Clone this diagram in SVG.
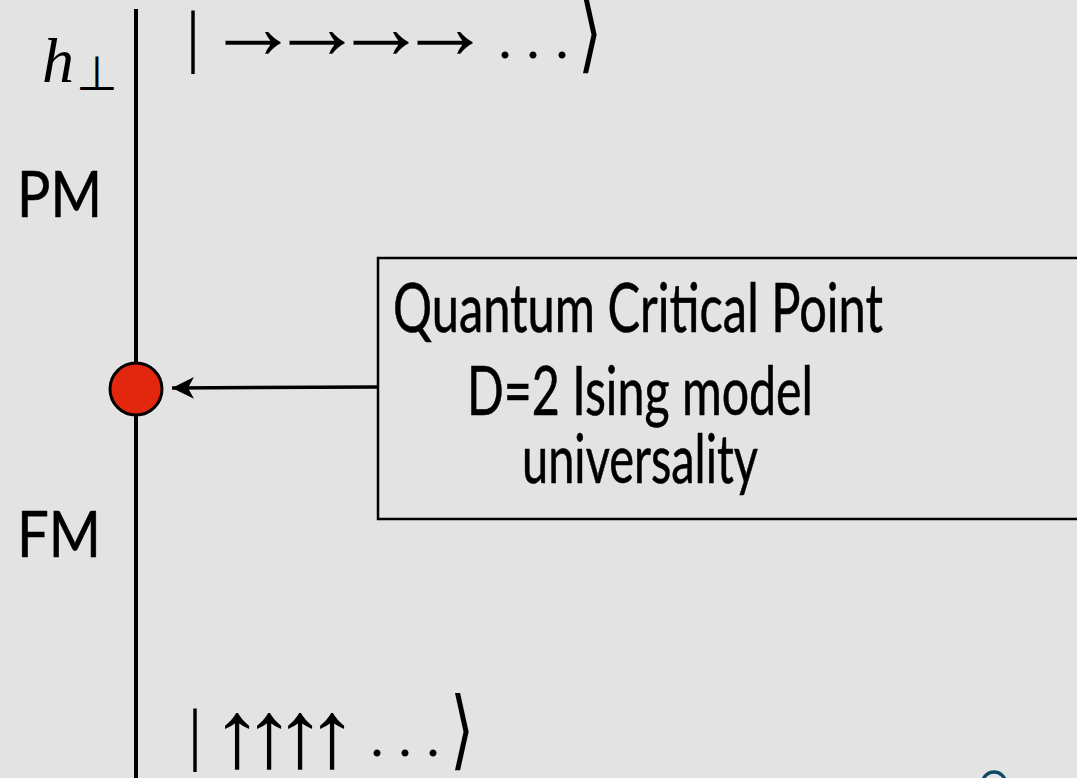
<svg xmlns="http://www.w3.org/2000/svg" width="1077" height="778" viewBox="0 0 1077 778">
<style>
.sans{font-family:"Lato","Open Sans","DejaVu Sans",sans-serif;fill:#000}
.heavy{stroke:#000;stroke-width:0.6}
.math{font-family:"Liberation Serif","DejaVu Serif",serif;fill:#000}
.sym{font-family:"DejaVu Sans",sans-serif;fill:#000}
.ra{font-family:"Liberation Serif","DejaVu Serif",serif;fill:#000;font-size:60px;text-anchor:middle}
.ua{font-family:"Liberation Serif","DejaVu Serif",serif;fill:#000;font-size:64px;text-anchor:middle}
.box{fill:none;stroke:#000;stroke-width:2.5}
.conn{stroke:#000;stroke-width:3.5;fill:none}
</style>
<defs>
<marker id="ah" markerUnits="userSpaceOnUse" markerWidth="26" markerHeight="26" refX="22" refY="11" orient="auto">
<path d="M0,0 L22,11 L0,22 L6,11 z" fill="#000"/>
</marker>
</defs>
<rect x="0" y="0" width="1077" height="778" fill="#e3e3e3"/>
<g id="axis">
<line x1="136" y1="9" x2="136" y2="778" stroke="#000" stroke-width="4"/>
</g>
<g id="labels">
<text class="math" x="42" y="82" font-size="64" font-style="italic">h</text>
<text class="sym" x="97" y="90" font-size="48" text-anchor="middle">⊥</text>
<text class="sans heavy" x="17" y="217" font-size="64" textLength="85" lengthAdjust="spacingAndGlyphs">PM</text>
<text class="sans heavy" x="17" y="557" font-size="64" textLength="84" lengthAdjust="spacingAndGlyphs">FM</text>
</g>
<g id="ket-top">
<text class="math" x="193" y="59" font-size="70" text-anchor="middle">|</text>
<text class="ra" y="10.6" transform="translate(253,42) scale(1.55,1.55)">→</text>
<text class="ra" y="10.6" transform="translate(317,42) scale(1.55,1.55)">→</text>
<text class="ra" y="10.6" transform="translate(381,42) scale(1.55,1.55)">→</text>
<text class="ra" y="10.6" transform="translate(445,42) scale(1.55,1.55)">→</text>
<text class="math" y="58" font-size="60" text-anchor="middle"><tspan x="505">.</tspan><tspan x="533">.</tspan><tspan x="562">.</tspan></text>
<text class="sym" x="590" y="44" font-size="62" text-anchor="middle" transform="scale(1,1.4)">⟩</text>
</g>
<g id="ket-bottom">
<text class="math" x="195" y="757" font-size="70" text-anchor="middle">|</text>
<text class="ua" transform="translate(237,767) scale(1.6,1.5)">↑</text>
<text class="ua" transform="translate(269,767) scale(1.6,1.5)">↑</text>
<text class="ua" transform="translate(300,767) scale(1.6,1.5)">↑</text>
<text class="ua" transform="translate(332,767) scale(1.6,1.5)">↑</text>
<text class="math" y="756" font-size="60" text-anchor="middle"><tspan x="377">.</tspan><tspan x="405">.</tspan><tspan x="433">.</tspan></text>
<text class="sym" x="462" y="542.5" font-size="62" text-anchor="middle" transform="scale(1,1.4)">⟩</text>
</g>
<g id="qcp">
<circle cx="136" cy="389" r="26" fill="#e3260e" stroke="#000" stroke-width="3"/>
</g>
<g id="box">
<rect class="box" x="378" y="258" width="720" height="261"/>
<text class="sans heavy" x="638" y="332" font-size="68" text-anchor="middle" textLength="490" lengthAdjust="spacingAndGlyphs">Quantum Critical Point</text>
<text class="sans heavy" x="640" y="415" font-size="68" text-anchor="middle" textLength="346" lengthAdjust="spacingAndGlyphs">D=2 Ising model</text>
<text class="sans heavy" x="640" y="483" font-size="68" text-anchor="middle" textLength="236" lengthAdjust="spacingAndGlyphs">universality</text>
</g>
<g id="connectors">
<line class="conn" x1="379" y1="387" x2="172" y2="388" marker-end="url(#ah)"/>
</g>
<g id="logo">
<path d="M983,782 A11,10 0 0 1 1005,782" fill="none" stroke="#0d4a66" stroke-width="3.5"/>
</g>
</svg>
